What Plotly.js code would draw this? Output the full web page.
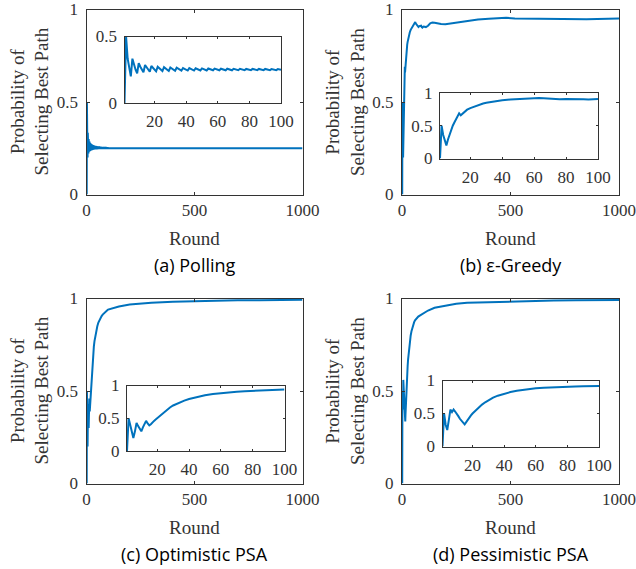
<!DOCTYPE html>
<html><head><meta charset="utf-8">
<script src="https://cdn.plot.ly/plotly-3.0.1.min.js"></script>
<style>html,body{margin:0;padding:0;background:#fff;} #chart{width:636px;height:569px;}</style>
</head><body><div id="chart"></div>
<script>
// ---------- data ----------
// (a) Polling: probability per round 1..100
const pollInsetVals = [
  0,0.5,0.333,0.25, 0.2,0.333,0.286,0.25, 0.222,0.3,0.273,0.25, 0.231,0.286,0.267,0.25,
  0.235,0.278,0.263,0.25, 0.238,0.273,0.261,0.25, 0.24,0.269,0.259,0.25, 0.241,0.267,0.258,0.25,
  0.242,0.265,0.257,0.25, 0.243,0.263,0.256,0.25, 0.244,0.262,0.256,0.25, 0.244,0.261,0.255,0.25,
  0.245,0.26,0.255,0.25, 0.245,0.259,0.255,0.25, 0.246,0.259,0.254,0.25, 0.246,0.258,0.254,0.25,
  0.246,0.258,0.254,0.25, 0.246,0.257,0.254,0.25, 0.247,0.257,0.253,0.25, 0.247,0.256,0.253,0.25,
  0.247,0.256,0.253,0.25, 0.247,0.256,0.253,0.25, 0.247,0.256,0.253,0.25, 0.247,0.255,0.253,0.25,
  0.247,0.255,0.253,0.25
];
const pollInsetRounds = pollInsetVals.map((v, i) => i + 1);
const pollTailRounds = [120,150,200,300,400,500,600,700,800,900,1000];
const pollTailVals   = [0.25,0.25,0.25,0.25,0.25,0.25,0.25,0.25,0.25,0.25,0.25];

// (b) epsilon-Greedy
const egInsetRounds = [1,2,3,4,5,6,7,8,9,10,11,12,13,14,15,16,17,18,20,22,24,26,28,30,33,36,40,45,50,55,60,61,63,66,70,73,76,80,85,88,91,94,97,100];
const egInsetVals   = [0,0.5,0.36,0.26,0.2,0.29,0.37,0.44,0.5,0.55,0.6,0.65,0.69,0.66,0.68,0.71,0.73,0.745,0.77,0.79,0.81,0.825,0.84,0.85,0.865,0.877,0.89,0.9,0.91,0.92,0.93,0.932,0.925,0.92,0.91,0.903,0.905,0.91,0.912,0.913,0.905,0.902,0.906,0.908];
const egTailRounds  = [110,120,130,140,150,160,180,200,230,260,300,350,400,450,480,520,560,600,650,700,750,800,850,900,950,1000];
const egTailVals    = [0.905,0.912,0.925,0.93,0.928,0.925,0.922,0.92,0.925,0.933,0.94,0.946,0.95,0.953,0.955,0.952,0.951,0.95,0.95,0.949,0.948,0.947,0.947,0.948,0.95,0.951];

// (c) Optimistic PSA
const opInsetRounds = [1,2,3,4,5,6,7,8,9,10,11,12,13,14,15,16,17,18,19,20,22,24,26,28,30,32,34,37,40,43,46,50,55,60,65,70,75,80,85,90,95,100];
const opInsetVals   = [0,0.5,0.4,0.3,0.2,0.3,0.43,0.38,0.33,0.3,0.36,0.42,0.46,0.42,0.39,0.41,0.44,0.46,0.48,0.5,0.55,0.59,0.63,0.665,0.695,0.72,0.74,0.77,0.795,0.815,0.83,0.85,0.87,0.885,0.895,0.905,0.913,0.92,0.925,0.93,0.935,0.94];
const opTailRounds  = [120,150,200,250,300,400,500,600,700,800,900,1000];
const opTailVals    = [0.948,0.957,0.967,0.973,0.977,0.982,0.986,0.988,0.99,0.991,0.992,0.993];

// (d) Pessimistic PSA
const peInsetRounds = [1,2,3,4,5,6,7,8,9,10,11,12,13,14,15,16,17,18,19,20,22,24,26,28,30,33,36,40,44,48,52,56,60,65,70,75,80,85,90,95,100];
const peInsetVals   = [0,0.5,0.33,0.25,0.4,0.56,0.52,0.56,0.53,0.5,0.46,0.42,0.39,0.36,0.335,0.37,0.41,0.44,0.47,0.5,0.55,0.6,0.635,0.67,0.7,0.74,0.77,0.8,0.825,0.845,0.86,0.872,0.882,0.89,0.897,0.902,0.906,0.91,0.913,0.916,0.918];
const peTailRounds  = [120,150,200,250,300,400,500,600,700,800,900,1000];
const peTailVals    = [0.935,0.95,0.963,0.972,0.977,0.981,0.984,0.987,0.989,0.99,0.991,0.992];

const captions = ['(a) Polling', '(b) \u03b5-Greedy', '(c) Optimistic PSA', '(d) Pessimistic PSA'];
const xTitle = 'Round';
const yTitle = 'Probability of<br>Selecting Best Path';
const mainXTicks = [0, 500, 1000];
const mainYTicks = [0, 0.5, 1];
const insetXTicks = [20, 40, 60, 80, 100];
const insetYTicksHalf = [0, 0.5];
const insetYTicksFull = [0, 0.5, 1];

// ---------- layout helpers ----------
const W = 636, H = 569;
const BLUE = '#0072BD', AX = '#333333';
const px = (a, b) => [a / W, b / W];
const py = (top, bottom) => [1 - bottom / H, 1 - top / H];

function axis(domain, range, tickvals, anchor, len, standoff) {
  return {
    domain, range, anchor, tickmode: 'array', tickvals,
    ticktext: tickvals.map(String),
    showline: true, mirror: 'ticks', linecolor: AX, linewidth: 1,
    ticks: 'inside', ticklen: len, tickwidth: 1, tickcolor: AX,
    ticklabelstandoff: standoff,
    showgrid: false, zeroline: false, fixedrange: true,
    tickfont: {family: 'Liberation Serif, Times New Roman, serif', size: 17, color: AX}
  };
}

const panels = [
  {ir: pollInsetRounds, iv: pollInsetVals, tr: pollTailRounds, tv: pollTailVals,
   main: {x: [86.5, 302.5], y: [9.5, 194.5]}, inset: {x: [124.5, 281], y: [36.5, 103]}, iy: insetYTicksHalf, iyr: [0, 0.5]},
  {ir: egInsetRounds, iv: egInsetVals, tr: egTailRounds, tv: egTailVals,
   main: {x: [402, 619], y: [9.5, 194.5]}, inset: {x: [440, 598], y: [93, 158.5]}, iy: insetYTicksFull, iyr: [0, 1]},
  {ir: opInsetRounds, iv: opInsetVals, tr: opTailRounds, tv: opTailVals,
   main: {x: [86.5, 302.5], y: [298.5, 483.5]}, inset: {x: [127, 284.5], y: [385.5, 451]}, iy: insetYTicksFull, iyr: [0, 1]},
  {ir: peInsetRounds, iv: peInsetVals, tr: peTailRounds, tv: peTailVals,
   main: {x: [402, 619], y: [298.5, 483.5]}, inset: {x: [442.5, 599], y: [380.5, 446.5]}, iy: insetYTicksFull, iyr: [0, 1]}
];

const data = [];
const layout = {
  width: W, height: H, margin: {l: 0, r: 0, t: 0, b: 0},
  paper_bgcolor: '#fff', plot_bgcolor: '#fff', showlegend: false,
  annotations: []
};

panels.forEach((p, k) => {
  const mi = 2 * k + 1, ii = 2 * k + 2;
  const mx = 'x' + (mi === 1 ? '' : mi), my = 'y' + (mi === 1 ? '' : mi);
  const ix = 'x' + ii, iy = 'y' + ii;
  data.push({
    x: p.ir.concat(p.tr), y: p.iv.concat(p.tv), xaxis: mx, yaxis: my,
    type: 'scatter', mode: 'lines', line: {color: BLUE, width: 2}, hoverinfo: 'skip'
  });
  data.push({
    x: p.ir, y: p.iv, xaxis: ix, yaxis: iy,
    type: 'scatter', mode: 'lines', line: {color: BLUE, width: 2}, hoverinfo: 'skip'
  });
  layout['xaxis' + (mi === 1 ? '' : mi)] = axis(px(...p.main.x), [0, 1000], mainXTicks, my, 3, 0);
  layout['yaxis' + (mi === 1 ? '' : mi)] = axis(py(...p.main.y), [0, 1], mainYTicks, mx, 3, 4);
  layout['xaxis' + ii] = axis(px(...p.inset.x), [1, 100], insetXTicks, iy, 2, 3);
  layout['yaxis' + ii] = axis(py(...p.inset.y), p.iyr, p.iy, ix, 2, 3);

  const cx = (p.main.x[0] + p.main.x[1]) / 2;
  const cy = (p.main.y[0] + p.main.y[1]) / 2;
  const bottom = p.main.y[1];
  const serif = 'Liberation Serif, Times New Roman, serif';
  layout.annotations.push({
    text: xTitle, xref: 'paper', yref: 'paper', x: cx / W, y: 1 - (bottom + 44) / H,
    xanchor: 'center', yanchor: 'middle', showarrow: false,
    font: {family: serif, size: 19, color: AX}
  });
  layout.annotations.push({
    text: captions[k], xref: 'paper', yref: 'paper', x: cx / W, y: 1 - (bottom + 70) / H,
    xanchor: 'center', yanchor: 'middle', showarrow: false,
    font: {family: 'Open Sans, Noto Sans, sans-serif', size: 18, color: '#000'}
  });
  layout.annotations.push({
    text: yTitle, xref: 'paper', yref: 'paper', x: (p.main.x[0] - 57) / W, y: 1 - cy / H,
    xanchor: 'center', yanchor: 'middle', textangle: -90, showarrow: false,
    font: {family: serif, size: 19, color: AX}
  });
});

Plotly.newPlot('chart', data, layout, {displayModeBar: false, staticPlot: true});
</script>
</body></html>
